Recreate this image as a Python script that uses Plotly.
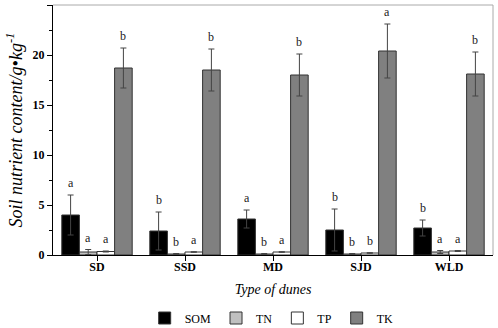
import plotly.graph_objects as go

categories = ["SD", "SSD", "MD", "SJD", "WLD"]
series_names = ["SOM", "TN", "TP", "TK"]
som = [4.0, 2.4, 3.6, 2.5, 2.7]
som_err = [2.0, 1.9, 0.9, 2.1, 0.8]
tn = [0.3, 0.1, 0.1, 0.1, 0.3]
tn_err = [0.25, 0.05, 0.05, 0.05, 0.15]
tp = [0.35, 0.3, 0.3, 0.2, 0.4]
tp_err = [0.05, 0.03, 0.03, 0.03, 0.05]
tk = [18.7, 18.5, 18.0, 20.4, 18.1]
tk_err = [2.0, 2.1, 2.1, 2.7, 2.2]
som_letters = ["a", "b", "a", "b", "b"]
tn_letters = ["a", "b", "b", "b", "a"]
tp_letters = ["a", "a", "a", "b", "a"]
tk_letters = ["b", "b", "b", "a", "b"]

values = [som, tn, tp, tk]
errors = [som_err, tn_err, tp_err, tk_err]
letters = [som_letters, tn_letters, tp_letters, tk_letters]
colors = ["#000000", "#c0c0c0", "#ffffff", "#808080"]

SERIF = "Liberation Serif"

fig = go.Figure()
for name, v, e, c in zip(series_names, values, errors, colors):
    fig.add_trace(go.Bar(
        name=name, x=categories, y=v,
        marker=dict(color=c, line=dict(color="#333333", width=1)),
        error_y=dict(type="data", array=e, visible=True, color="#444444",
                     thickness=1, width=3),
    ))

n = len(series_names)
bw = 0.8 / n
annotations = []
for s in range(n):
    off = -0.4 + bw * (s + 0.5)
    for i in range(len(categories)):
        annotations.append(dict(
            x=i + off, y=values[s][i] + errors[s][i], xref="x", yref="y",
            text=letters[s][i], showarrow=False, yanchor="bottom", yshift=3,
            font=dict(family=SERIF, size=12, color="#222222"),
        ))

fig.update_layout(
    width=498, height=328,
    margin=dict(l=53, r=5, t=5, b=73, autoexpand=False),
    paper_bgcolor="white", plot_bgcolor="white",
    barmode="group", bargap=0.2, bargroupgap=0,
    font=dict(family=SERIF, color="#000000"),
    showlegend=True,
    legend=dict(orientation="h", x=0.497, xanchor="center", y=-0.252, yanchor="middle",
                font=dict(family=SERIF, size=12), itemwidth=30,
                traceorder="normal"),
    annotations=annotations,
    shapes=[
        dict(type="line", xref="paper", yref="paper", x0=0, x1=1, y0=1, y1=1,
             line=dict(color="#aaaaaa", width=1)),
        dict(type="line", xref="paper", yref="paper", x0=1, x1=1, y0=0, y1=1,
             line=dict(color="#aaaaaa", width=1)),
    ],
)
fig.update_xaxes(
    type="category", showline=True, linecolor="#000000", linewidth=1,
    ticks="outside", ticklen=5, tickcolor="#000000", ticklabelstandoff=-4,
    tickfont=dict(family=SERIF, size=12, color="#000000", weight="bold"),
    title=dict(text="<i>Type of dunes</i>", font=dict(family=SERIF, size=14), standoff=10),
    showgrid=False, zeroline=False,
)
fig.update_yaxes(
    range=[0, 25], dtick=5, showline=True, linecolor="#000000", linewidth=1,
    ticks="outside", ticklen=5, tickcolor="#000000",
    minor=dict(dtick=2.5, ticks="outside", ticklen=3, tickcolor="#000000"),
    tickfont=dict(family=SERIF, size=12, color="#000000", weight="bold"),
    title=dict(text="<i>Soil nutrient content/g•kg<sup>-1</sup></i>",
               font=dict(family=SERIF, size=18), standoff=5),
    showgrid=False, zeroline=False,
)

fig.write_html("out.html", config={"displayModeBar": False},
               post_script="document.body.style.margin='0';document.body.style.overflow='hidden';")
